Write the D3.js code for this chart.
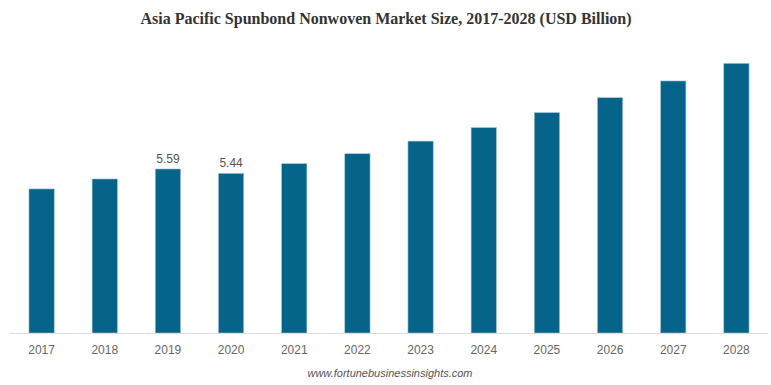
<!DOCTYPE html>
<html>
<head>
<meta charset="utf-8">
<script src="https://cdn.jsdelivr.net/npm/d3@7"></script>
<style>
	body { margin: 0; background: #fff; }
	svg { display: block; font-family: "Liberation Sans", Arial, sans-serif; }
</style>
</head>
<body>
<svg id="chart" width="771" height="385"></svg>
<script>

//------------------------------------------------------------------------------
// Data

var years = ['2017', '2018', '2019', '2020', '2021', '2022', '2023', '2024', '2025', '2026', '2027', '2028'];
var sizes = [4.91, 5.25, 5.59, 5.44, 5.77, 6.11, 6.54, 7.00, 7.51, 8.02, 8.59, 9.19];
var labelled = ['2019', '2020'];

var title = 'Asia Pacific Spunbond Nonwoven Market Size, 2017-2028 (USD Billion)';
var source = 'www.fortunebusinessinsights.com';

//------------------------------------------------------------------------------
// Chart

var svg = d3.select('#chart');
var base = 333;

var x = d3.scaleBand()
	.domain(years)
	.range([10, 768])
	.paddingInner(0.6)
	.paddingOuter(0.3);

var y = d3.scaleLinear()
	.domain([0, 10])
	.range([base, base - 293.4]);

svg.append('text')
	.attr('x', 386)
	.attr('y', 24)
	.attr('text-anchor', 'middle')
	.style('font-family', '"Liberation Serif", "Times New Roman", serif')
	.style('font-weight', 'bold')
	.style('font-size', '16px')
	.style('fill', '#333')
	.text(title);

svg.append('g').attr('class', 'bars')
	.selectAll('rect')
	.data(sizes)
	.join('rect')
		.attr('x', function (d, i) { return x(years[i]); })
		.attr('y', function (d) { return y(d); })
		.attr('width', x.bandwidth())
		.attr('height', function (d) { return base - y(d); })
		.attr('fill', '#06638a')
		.attr('stroke', '#9cc3d6')
		.attr('stroke-width', 0.6)
;

svg.append('g').attr('class', 'labels')
	.selectAll('text')
	.data(sizes.filter(function (d, i) { return labelled.indexOf(years[i]) >= 0; }))
	.join('text')
		.attr('x', function (d) { return x(years[sizes.indexOf(d)]) + x.bandwidth() / 2; })
		.attr('y', function (d) { return y(d) - 6; })
		.attr('text-anchor', 'middle')
		.style('font-size', '12px')
		.style('fill', '#555')
		.text(function (d) { return d.toFixed(2); })
;

var axis = svg.append('g')
	.attr('transform', 'translate(0,' + base + ')')
	.call(d3.axisBottom(x).tickSize(0).tickPadding(12));
axis.select('.domain').attr('stroke', '#ddd').attr('d', 'M10,0.5H768');
axis.selectAll('text')
	.style('font-family', '"Liberation Sans", Arial, sans-serif')
	.style('font-size', '12px')
	.style('fill', '#666');

svg.append('text')
	.attr('x', 390)
	.attr('y', 377)
	.attr('text-anchor', 'middle')
	.style('font-size', '11px')
	.style('font-style', 'italic')
	.style('fill', '#555')
	.text(source);

</script>
</body>
</html>
